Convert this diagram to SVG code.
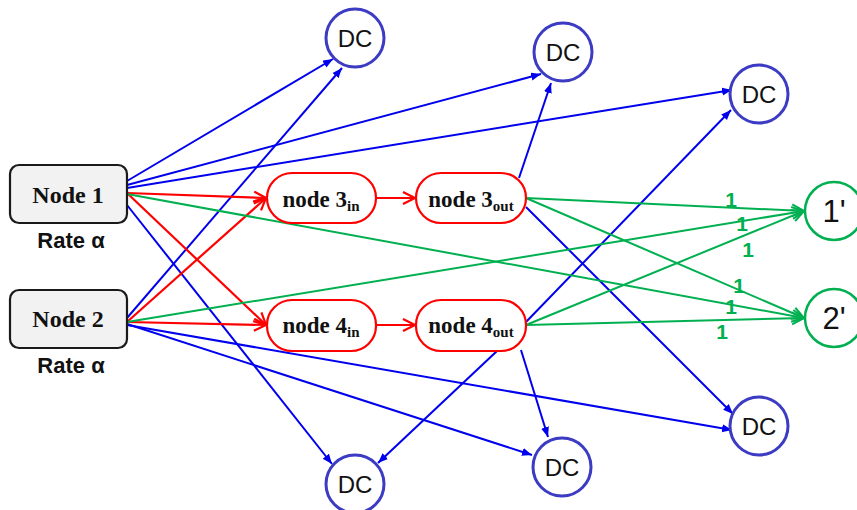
<svg xmlns="http://www.w3.org/2000/svg" width="857" height="510" viewBox="0 0 857 510">
  <style>
    .src rect { fill: #f2f2f2; stroke: #1a1a1a; stroke-width: 2.2; }
    .src text { font-family: "Liberation Serif", serif; font-weight: bold; font-size: 24px; fill: #111; text-anchor: middle; }
    .src text.rate { font-family: "Liberation Sans", Arial, sans-serif; font-weight: bold; font-size: 22px; fill: #111; text-anchor: middle; }
    .mid rect { fill: #fff; stroke: #ff0000; stroke-width: 2.2; }
    .mid text { font-family: "Liberation Serif", serif; font-weight: bold; font-size: 23px; fill: #111; text-anchor: middle; }
    .sub { font-size: 15px; }
    .dc circle { fill: #fff; stroke: #3b3bc4; stroke-width: 3; }
    .dc text { font-family: "Liberation Sans", Arial, sans-serif; font-size: 24px; fill: #111; text-anchor: middle; }
    .snk circle { fill: #fff; stroke: #00b050; stroke-width: 2.5; }
    .snk text { font-family: "Liberation Sans", Arial, sans-serif; font-size: 31px; fill: #111; text-anchor: middle; }
    .b { stroke: #0000ee; stroke-width: 2; fill: none; marker-end: url(#ab); }
    .r { stroke: #ff0000; stroke-width: 2.2; fill: none; marker-end: url(#ar); }
    .g { stroke: #00b050; stroke-width: 2; fill: none; marker-end: url(#ag); }
    .w { font-family: "Liberation Sans", Arial, sans-serif; font-weight: bold; font-size: 21px; fill: #00b050; text-anchor: middle; }
  </style>
  <defs>
    <marker id="ab" markerUnits="userSpaceOnUse" markerWidth="11" markerHeight="9" refX="10" refY="4" orient="auto">
      <path d="M0,0 L10,4 L0,8 z" fill="#0000ee"/>
    </marker>
    <marker id="ar" markerUnits="userSpaceOnUse" markerWidth="16" markerHeight="16" refX="13" refY="7" orient="auto">
      <path d="M1,1 L13,7 L1,13" fill="none" stroke="#ff0000" stroke-width="2.2"/>
    </marker>
    <marker id="ag" markerUnits="userSpaceOnUse" markerWidth="16" markerHeight="16" refX="13" refY="7" orient="auto">
      <path d="M1,1 L13,7 L1,13" fill="none" stroke="#00b050" stroke-width="2"/>
    </marker>
  </defs>

  <g id="connectors">
    <!-- blue -->
    <line class="b" x1="127" y1="181" x2="333" y2="59"/>
    <line class="b" x1="127" y1="185" x2="541" y2="74"/>
    <line class="b" x1="127" y1="188" x2="732" y2="90"/>
    <line class="b" x1="127" y1="205" x2="332" y2="464"/>
    <line class="b" x1="127" y1="318" x2="342" y2="68"/>
    <line class="b" x1="127" y1="324" x2="532" y2="455"/>
    <line class="b" x1="127" y1="325" x2="732" y2="430"/>
    <line class="b" x1="519" y1="178" x2="551" y2="83"/>
    <line class="b" x1="526" y1="207" x2="733" y2="414"/>
    <line class="b" x1="526" y1="322" x2="731" y2="110"/>
    <line class="b" x1="497" y1="351" x2="378" y2="463"/>
    <line class="b" x1="521" y1="350" x2="548" y2="437"/>
    <!-- red -->
    <line class="r" x1="127" y1="193" x2="266" y2="198"/>
    <line class="r" x1="127" y1="193" x2="266" y2="325"/>
    <line class="r" x1="127" y1="322" x2="266" y2="198"/>
    <line class="r" x1="127" y1="322" x2="266" y2="325"/>
    <line class="r" x1="376" y1="198" x2="415" y2="198"/>
    <line class="r" x1="376" y1="325" x2="415" y2="325"/>
    <!-- green -->
    <line class="g" x1="127" y1="194" x2="804" y2="318"/>
    <line class="g" x1="127" y1="322" x2="804" y2="211"/>
    <line class="g" x1="526" y1="198" x2="804" y2="211"/>
    <line class="g" x1="526" y1="198" x2="804" y2="318"/>
    <line class="g" x1="526" y1="325" x2="804" y2="211"/>
    <line class="g" x1="526" y1="325" x2="804" y2="318"/>
    <text class="w" x="731" y="207">1</text>
    <text class="w" x="742" y="231">1</text>
    <text class="w" x="748" y="257">1</text>
    <text class="w" x="739" y="293">1</text>
    <text class="w" x="731" y="314">1</text>
    <text class="w" x="722" y="339">1</text>
  </g>

  <g id="node1" class="src">
    <rect x="10" y="165" width="117" height="58" rx="9"/>
    <text x="68" y="203">Node 1</text>
    <text class="rate" x="71" y="248">Rate α</text>
  </g>
  <g id="node2" class="src">
    <rect x="10" y="290" width="117" height="58" rx="9"/>
    <text x="68" y="327">Node 2</text>
    <text class="rate" x="71" y="373">Rate α</text>
  </g>

  <g id="node3in" class="mid">
    <rect x="267" y="173" width="109" height="50" rx="25"/>
    <text x="321" y="207">node 3<tspan class="sub" dy="4">in</tspan></text>
  </g>
  <g id="node3out" class="mid">
    <rect x="416" y="173" width="110" height="50" rx="25"/>
    <text x="471" y="207">node 3<tspan class="sub" dy="4">out</tspan></text>
  </g>
  <g id="node4in" class="mid">
    <rect x="267" y="300" width="109" height="51" rx="25"/>
    <text x="321" y="333">node 4<tspan class="sub" dy="4">in</tspan></text>
  </g>
  <g id="node4out" class="mid">
    <rect x="416" y="300" width="110" height="51" rx="25"/>
    <text x="471" y="333">node 4<tspan class="sub" dy="4">out</tspan></text>
  </g>

  <g id="dc1" class="dc"><circle cx="355" cy="38" r="29"/><text x="355" y="47">DC</text></g>
  <g id="dc2" class="dc"><circle cx="563" cy="52" r="29"/><text x="563" y="61">DC</text></g>
  <g id="dc3" class="dc"><circle cx="759" cy="94" r="29"/><text x="759" y="103">DC</text></g>
  <g id="dc4" class="dc"><circle cx="355" cy="484" r="29"/><text x="355" y="493">DC</text></g>
  <g id="dc5" class="dc"><circle cx="562" cy="467" r="29"/><text x="562" y="476">DC</text></g>
  <g id="dc6" class="dc"><circle cx="759" cy="426" r="29"/><text x="759" y="435">DC</text></g>

  <g id="sink1" class="snk"><circle cx="834" cy="211" r="29"/><text x="834" y="222">1'</text></g>
  <g id="sink2" class="snk"><circle cx="834" cy="318" r="29"/><text x="834" y="329">2'</text></g>
</svg>
